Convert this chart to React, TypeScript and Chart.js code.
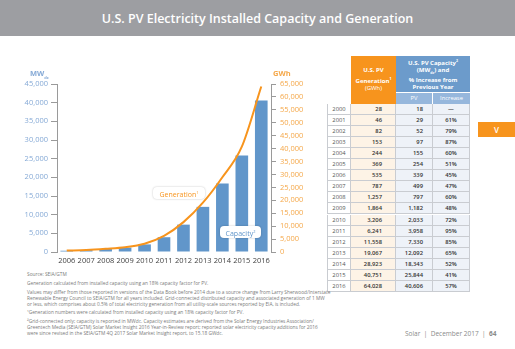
import React, { useEffect, useRef } from "react";
import { Chart, registerables } from "chart.js";

Chart.register(...registerables);

const chartYears = ["2006", "2007", "2008", "2009", "2010", "2011", "2012", "2013", "2014", "2015", "2016"];
const capacityMW = [339, 499, 797, 1182, 2033, 3958, 7330, 12092, 18343, 25844, 40606];
const generationGWh = [535, 787, 1257, 1864, 3206, 6241, 11558, 19067, 28923, 40751, 64028];

const tableYears = ["2000", "2001", "2002", "2003", "2004", "2005", "2006", "2007", "2008", "2009", "2010", "2011", "2012", "2013", "2014", "2015", "2016"];
const tableGeneration = [28, 46, 82, 153, 244, 369, 535, 787, 1257, 1864, 3206, 6241, 11558, 19067, 28923, 40751, 64028];
const tableCapacity = [18, 29, 52, 97, 155, 254, 339, 499, 797, 1182, 2033, 3958, 7330, 12092, 18343, 25844, 40606];
const tableIncrease = ["—", "61%", "79%", "87%", "60%", "51%", "45%", "47%", "60%", "48%", "72%", "95%", "85%", "65%", "52%", "41%", "57%"];

const footnotes = [
  "Source: SEIA/GTM",
  "Generation calculated from installed capacity using an 18% capacity factor for PV.",
  "Values may differ from those reported in versions of the Data Book before 2014 due to a source change from Larry Sherwood/Interstate",
  "Renewable Energy Council to SEIA/GTM for all years included. Grid-connected distributed capacity and associated generation of 1 MW",
  "or less, which comprises about 0.5% of total electricity generation from all utility-scale sources reported by EIA, is included.",
  "¹Generation numbers were calculated from installed capacity using an 18% capacity factor for PV.",
  "²Grid-connected only; capacity is reported in MWdc. Capacity estimates are derived from the Solar Energy Industries Association/",
  "Greentech Media (SEIA/GTM) Solar Market Insight 2016 Year-in-Review report; reported solar electricity capacity additions for 2016",
  "were since revised in the SEIA/GTM 4Q 2017 Solar Market Insight report, to 15.18 GWdc.",
];
const footnoteTops = [272, 281, 290, 296, 302, 310, 319, 325, 331];

const ORANGE = "#f7941d";
const BLUE = "#6196ca";
const FONT = "'Open Sans', sans-serif";

const fmt = (v: number) => v.toLocaleString("en-US");

export default function App() {
  const canvasRef = useRef<HTMLCanvasElement | null>(null);

  useEffect(() => {
    document.body.style.margin = "0";
    const ctx = canvasRef.current;
    if (!ctx) return;
    const chart = new Chart(ctx, {
      type: "bar",
      data: {
        labels: chartYears,
        datasets: [
          {
            type: "line",
            label: "Generation",
            data: generationGWh,
            yAxisID: "y1",
            borderColor: ORANGE,
            borderWidth: 2,
            pointRadius: 0,
            tension: 0.4,
            cubicInterpolationMode: "monotone",
            order: 0,
          } as any,
          {
            type: "bar",
            label: "Capacity",
            data: capacityMW,
            yAxisID: "y",
            backgroundColor: BLUE,
            barPercentage: 0.65,
            categoryPercentage: 1,
            order: 1,
          },
        ],
      },
      options: {
        responsive: false,
        animation: false,
        devicePixelRatio: 1,
        layout: { padding: { top: 22, left: 0, right: 0, bottom: 0 } },
        plugins: { legend: { display: false }, tooltip: { enabled: false } },
        scales: {
          x: {
            grid: { display: false, drawTicks: false },
            border: { display: false },
            ticks: {
              color: "#3f3f3f",
              font: { family: FONT, size: 7.5, weight: 500 as any },
              padding: 4,
              maxRotation: 0,
              autoSkip: false,
            },
            afterFit: (s: any) => {
              s.height = 16;
            },
          },
          y: {
            position: "left",
            min: 0,
            max: 45000,
            ticks: {
              stepSize: 5000,
              color: "#86aad6",
              font: { family: FONT, size: 7.5 },
              padding: 3,
              callback: (v: any) => fmt(Number(v)),
            },
            grid: { drawOnChartArea: false, drawTicks: true, tickLength: 6, color: "#9a9a9a" },
            border: { display: true, color: "#9a9a9a" },
            afterFit: (s: any) => {
              s.width = 57;
            },
          },
          y1: {
            position: "right",
            min: 0,
            max: 65000,
            ticks: {
              stepSize: 5000,
              color: "#f5a84a",
              font: { family: FONT, size: 7.5 },
              padding: 4,
              callback: (v: any) => fmt(Number(v)),
            },
            grid: { drawOnChartArea: false, drawTicks: true, tickLength: 5, color: "#9a9a9a" },
            border: { display: true, color: "#9a9a9a" },
            afterFit: (s: any) => {
              s.width = 49;
            },
          },
        },
      },
    });
    return () => chart.destroy();
  }, []);

  const cellBorder = "1px solid #c9ccd1";
  const rowH = 11.1;
  const tableTop = 103.5;
  const colX = [327, 351, 396, 433, 470];

  return (
    <div style={{ position: "fixed", left: 0, top: 0, width: 515, height: 349, background: "#fff", overflow: "hidden", fontFamily: FONT }}>
      <div style={{ position: "absolute", left: 0, top: 0, width: 515, height: 36, background: "#9d9ea2", color: "#fff", fontSize: 12.5, fontWeight: 600, textAlign: "center", lineHeight: "38px" }}>
        U.S. PV Electricity Installed Capacity and Generation
      </div>

      <div style={{ position: "absolute", left: 0, top: 62, width: 320, height: 206 }}>
        <canvas ref={canvasRef} width={320} height={206} style={{ display: "block" }} />
      </div>

      <div style={{ position: "absolute", left: 30, top: 68, fontSize: 7.5, fontWeight: 700, color: "#86aad6", whiteSpace: "nowrap" }}>
        MW<sub style={{ fontSize: 4, verticalAlign: "sub" }}>dc</sub>
      </div>
      <div style={{ position: "absolute", left: 273, top: 68, fontSize: 7.5, fontWeight: 700, color: "#f5a84a", whiteSpace: "nowrap" }}>GWh</div>

      <div style={{ position: "absolute", left: 153, top: 187, width: 52, height: 12, borderRadius: 4, background: "#fff", boxShadow: "0 0 2px rgba(0,0,0,0.25)", color: ORANGE, fontSize: 7, lineHeight: "12px", textAlign: "center", whiteSpace: "nowrap" }}>
        Generation<sup style={{ fontSize: 4 }}>1</sup>
      </div>
      <div style={{ position: "absolute", left: 220, top: 226, width: 41, height: 12, borderRadius: 4, background: "#fff", boxShadow: "0 0 2px rgba(0,0,0,0.25)", color: BLUE, fontSize: 7, lineHeight: "12px", textAlign: "center", whiteSpace: "nowrap" }}>
        Capacity<sup style={{ fontSize: 4 }}>2</sup>
      </div>

      {/* table headers */}
      <div style={{ position: "absolute", left: colX[1], top: 56, width: colX[2] - colX[1], height: tableTop - 56, background: ORANGE, color: "#fff", fontSize: 6, fontWeight: 700, textAlign: "center", display: "flex", alignItems: "center", justifyContent: "center", lineHeight: "7.3px" }}>
        <div>U.S. PV<br />Generation<sup style={{ fontSize: 3.5 }}>1</sup><br /><span style={{ fontWeight: 400 }}>(GWh)</span></div>
      </div>
      <div style={{ position: "absolute", left: colX[2], top: 56, width: colX[4] - colX[2], height: 36, background: "#6c9bcb", color: "#fff", fontSize: 6, fontWeight: 700, textAlign: "center", display: "flex", alignItems: "center", justifyContent: "center", lineHeight: "7.3px" }}>
        <div>U.S. PV Capacity<sup style={{ fontSize: 3.5 }}>2</sup><br />(MW<sub style={{ fontSize: 3.5 }}>dc</sub>) and<br />% Increase from<br />Previous Year</div>
      </div>
      <div style={{ position: "absolute", left: colX[2], top: 92, width: colX[3] - colX[2], height: tableTop - 92, background: "#96b7dc", color: "#fff", fontSize: 5.8, textAlign: "center", lineHeight: "11.5px", borderRight: "1px solid #fff", boxSizing: "border-box", borderTop: "1px solid #fff" }}>PV</div>
      <div style={{ position: "absolute", left: colX[3], top: 92, width: colX[4] - colX[3], height: tableTop - 92, background: "#96b7dc", color: "#fff", fontSize: 5.8, textAlign: "center", lineHeight: "11.5px", boxSizing: "border-box", borderTop: "1px solid #fff" }}>Increase</div>

      {/* table body */}
      {tableYears.map((yr, i) => {
        const top = tableTop + i * rowH;
        const common: React.CSSProperties = { position: "absolute", top, height: rowH, boxSizing: "border-box", borderBottom: cellBorder, borderRight: cellBorder, fontSize: 5.8, lineHeight: `${rowH - 1}px`, whiteSpace: "nowrap", color: "#333" };
        return (
          <React.Fragment key={yr}>
            <div style={{ ...common, left: colX[0], width: colX[1] - colX[0], background: "#fff", borderLeft: cellBorder, textAlign: "center", color: "#555" }}>{yr}</div>
            <div style={{ ...common, left: colX[1], width: colX[2] - colX[1], background: "#fdf3e6", textAlign: "right", paddingRight: 13, fontWeight: 600 }}>{fmt(tableGeneration[i])}</div>
            <div style={{ ...common, left: colX[2], width: colX[3] - colX[2], background: "#eef2f8", textAlign: "right", paddingRight: 9, fontWeight: 600 }}>{fmt(tableCapacity[i])}</div>
            <div style={{ ...common, left: colX[3], width: colX[4] - colX[3], background: "#eef2f8", textAlign: "center", fontWeight: 600 }}>{tableIncrease[i]}</div>
          </React.Fragment>
        );
      })}

      <div style={{ position: "absolute", left: 478, top: 122, width: 37, height: 15, background: ORANGE, color: "#fff", fontSize: 8, fontWeight: 600, lineHeight: "15px", textAlign: "center" }}>V</div>

      {footnotes.map((t, i) => (
        <div key={i} style={{ position: "absolute", left: 27, top: footnoteTops[i], fontSize: 4.8, lineHeight: "5px", color: "#7a7a7a", whiteSpace: "nowrap" }}>{t}</div>
      ))}

      <div style={{ position: "absolute", left: 405, top: 329, fontSize: 6.5, color: "#8a8a8a", whiteSpace: "nowrap" }}>
        Solar&nbsp;&nbsp;|&nbsp;&nbsp;December 2017&nbsp;&nbsp;|&nbsp;&nbsp;<b>64</b>
      </div>
    </div>
  );
}
